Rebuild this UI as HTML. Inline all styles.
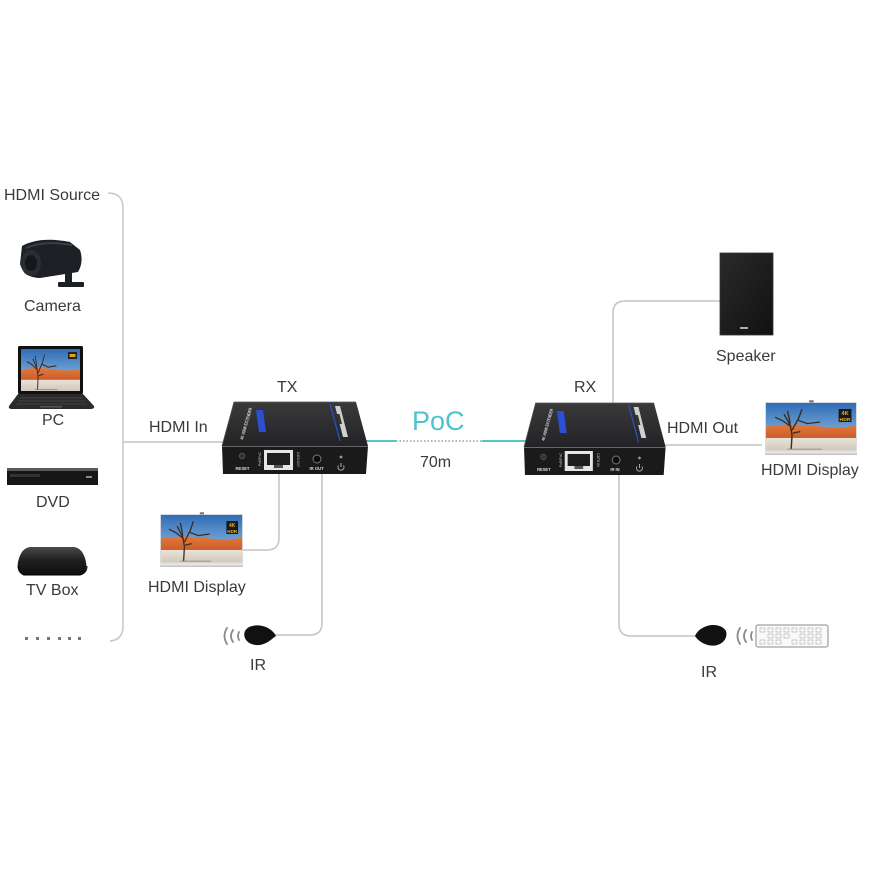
<!DOCTYPE html>
<html><head><meta charset="utf-8"><style>
html,body{margin:0;padding:0;background:#fff;}
svg{display:block;}
text{font-family:"Liberation Sans",Arial,sans-serif;fill:#3a3a3a;}
</style></head><body>
<svg width="870" height="870" viewBox="0 0 870 870" xmlns="http://www.w3.org/2000/svg">
<defs>
 <linearGradient id="sky" x1="0" y1="0" x2="0" y2="1">
  <stop offset="0" stop-color="#2f6db7"/><stop offset="1" stop-color="#a8cdea"/>
 </linearGradient>
 <linearGradient id="dune" x1="0" y1="0" x2="0" y2="1">
  <stop offset="0" stop-color="#e3783a"/><stop offset="1" stop-color="#c95a26"/>
 </linearGradient>
 <linearGradient id="ground" x1="0" y1="0" x2="0" y2="1">
  <stop offset="0" stop-color="#e9e2d8"/><stop offset="1" stop-color="#d2c8bb"/>
 </linearGradient>
 <linearGradient id="topg" x1="0" y1="0" x2="0" y2="1">
  <stop offset="0" stop-color="#3a3a3c"/><stop offset="1" stop-color="#232325"/>
 </linearGradient>
 <linearGradient id="spk" x1="0" y1="0" x2="1" y2="1">
  <stop offset="0" stop-color="#2a2a2a"/><stop offset="1" stop-color="#111"/>
 </linearGradient>
 <linearGradient id="tvb" x1="0" y1="0" x2="0" y2="1">
  <stop offset="0" stop-color="#4a4a4a"/><stop offset="0.5" stop-color="#1e1e1e"/><stop offset="1" stop-color="#0e0e0e"/>
 </linearGradient>
 <symbol id="scene" viewBox="0 0 100 60" preserveAspectRatio="none">
  <rect x="0" y="0" width="100" height="60" fill="url(#sky)"/>
  <path d="M0,30 Q25,25 55,29 T100,28 L100,46 L0,46 Z" fill="url(#dune)"/>
  <rect x="0" y="44" width="100" height="16" fill="url(#ground)"/>
  <path d="M28,58 L29,40 L27,28 L20,14 M29,34 L36,20 L40,8 M36,22 L46,26 L60,24 M28,30 L18,22 L10,18 M27,26 L24,10 M30,38 L38,36" stroke="#3b2c24" stroke-width="1.6" fill="none"/>
  <path d="M24,58 L62,58" stroke="#8a7f74" stroke-width="1"/>
 </symbol>
 <g id="tv">
  <rect x="0" y="0" width="100" height="60" fill="#ddd"/>
  <use href="#scene" x="1" y="1" width="98" height="55"/>
  <rect x="80" y="8" width="14" height="15" fill="#1a1a1a"/>
  <text x="87" y="15" font-size="6" text-anchor="middle" style="fill:#e6b422;font-weight:bold">4K</text>
  <text x="87" y="22" font-size="5.5" text-anchor="middle" style="fill:#e6b422;font-weight:bold">HDR</text>
  <rect x="0" y="56" width="100" height="4" fill="#e3e3e3"/>
  <line x1="0" y1="60" x2="100" y2="60" stroke="#888" stroke-width="0.8"/>
  <rect x="48" y="-2" width="5" height="2.5" fill="#777"/>
 </g>
 <g id="boxbase">
  <polygon points="234,402 356,402 368,446 222,446" fill="url(#topg)"/>
  <polyline points="222,446 234,402 356,402" fill="none" stroke="#555" stroke-width="0.8"/>
  <polygon points="222,446 368,446 366,474 223,474" fill="#1a1a1a"/>
  <line x1="222" y1="446.5" x2="368" y2="446.5" stroke="#666" stroke-width="1"/>
  <polygon points="256,410 263,410 266,432 259,432" fill="#2c4fd4"/>
  <text transform="translate(243,440) rotate(-74)" font-size="4.5" textLength="33" lengthAdjust="spacingAndGlyphs" style="fill:#ddd;font-weight:bold">4K HDMI EXTENDER</text>
  <line x1="330" y1="404" x2="340" y2="441" stroke="#2c4fd4" stroke-width="1.2"/>
  <polygon points="335,406 340,406 348,437 343,437" fill="#cfcfcf"/>
  <polygon points="336.5,414 339.5,414 342,424 339,424" fill="#333"/>
  <circle cx="242" cy="456" r="2.8" fill="#333" stroke="#555" stroke-width="0.8"/>
  <rect x="264" y="450" width="29" height="20" fill="#e6e6e6"/>
  <rect x="267" y="453" width="23" height="12" fill="#1e1e1e"/>
  <rect x="274" y="465" width="9" height="3" fill="#555"/>
  <circle cx="317" cy="459" r="4" fill="#0c0c0c" stroke="#7a7a7a" stroke-width="1"/>
  <circle cx="341" cy="457" r="1.4" fill="#999"/>
  <path d="M338.5,465.5 A3,3 0 1 0 343.5,465.5" fill="none" stroke="#bbb" stroke-width="0.9"/>
  <line x1="341" y1="463" x2="341" y2="467" stroke="#bbb" stroke-width="0.9"/>
 </g>
</defs>

<!-- HDMI source bracket -->
<path d="M108,193 Q123,193 123,208 L123,626 Q123,640 110,641" fill="none" stroke="#c6c6c6" stroke-width="1.5"/>
<text x="4" y="200" font-size="16">HDMI Source</text>

<!-- Camera -->
<g>
 <path d="M22,246 Q40,236 70,242 L80,250 Q84,262 78,272 L40,278 Q24,278 20,264 Z" fill="#1d2024"/>
 <path d="M26,248 Q44,240 72,245" stroke="#3a3f45" stroke-width="2" fill="none"/>
 <ellipse cx="31" cy="263" rx="10" ry="13" fill="#2a2e33"/>
 <ellipse cx="31" cy="263" rx="6" ry="8" fill="#15171a"/>
 <rect x="65" y="268" width="7" height="16" fill="#1d2024"/>
 <rect x="58" y="282" width="26" height="5" rx="1" fill="#1d2024"/>
</g>
<text x="24" y="311" font-size="16">Camera</text>

<!-- Laptop -->
<g>
 <rect x="18" y="346" width="65" height="48" rx="1.5" fill="#111"/>
 <use href="#scene" x="21" y="349" width="59" height="42"/>
 <rect x="68" y="352" width="9" height="7" fill="#222"/>
 <rect x="69.5" y="354" width="6" height="3" fill="#d9a521"/>
 <path d="M18,394 L83,394 L94,406 Q95,409 90,409 L12,409 Q8,409 9,406 Z" fill="#2b2b2b"/>
 <path d="M20,398 L82,398 M18,401 L85,401 M16,404 L87,404" stroke="#4a4a4a" stroke-width="0.8"/>
 <rect x="40" y="406" width="22" height="1.5" fill="#555"/>
</g>
<text x="42" y="425" font-size="16">PC</text>

<!-- DVD -->
<g>
 <rect x="7" y="468" width="91" height="17" fill="#161616"/>
 <rect x="7" y="468" width="91" height="3" fill="#5a5a5a"/>
 <rect x="10" y="474" width="30" height="3" fill="#333"/>
 <rect x="86" y="476" width="6" height="2" fill="#888"/>
</g>
<text x="36" y="507" font-size="16">DVD</text>

<!-- TV Box -->
<path d="M30,547 L74,547 Q83,548 86,562 Q88,573 80,575 L24,575 Q16,573 18,562 Q21,548 30,547 Z" fill="url(#tvb)"/>
<path d="M18,566 Q20,574 24,575 L80,575 Q87,573 87,566" fill="none" stroke="#000" stroke-width="1"/>
<text x="26" y="595" font-size="16">TV Box</text>

<!-- dots -->
<g fill="#777">
 <rect x="25" y="637" width="3" height="3"/><rect x="36" y="637" width="3" height="3"/>
 <rect x="47" y="637" width="3" height="3"/><rect x="58" y="637" width="3" height="3"/>
 <rect x="68" y="637" width="3" height="3"/><rect x="78" y="637" width="3" height="3"/>
</g>

<!-- connector lines -->
<g fill="none" stroke="#c4c4c4" stroke-width="1.5">
 <line x1="123" y1="442" x2="224" y2="442"/>
 <path d="M279,470 L279,538 Q279,550 267,550 L243,550"/>
 <path d="M322,470 L322,623 Q322,635 310,635 L274,635"/>
 <path d="M613,410 L613,313 Q613,301 625,301 L720,301"/>
 <line x1="662" y1="445" x2="762" y2="445"/>
 <path d="M619,472 L619,624 Q619,636 631,636 L697,636"/>
</g>

<!-- PoC link -->
<line x1="362" y1="441" x2="396" y2="441" stroke="#55c4cc" stroke-width="2"/>
<line x1="396" y1="441" x2="482" y2="441" stroke="#9a9a9a" stroke-width="1.5" stroke-dasharray="1.5,2"/>
<line x1="482" y1="441" x2="528" y2="441" stroke="#55c4cc" stroke-width="2"/>
<text x="412" y="430" font-size="27" style="fill:#4cc4ce">PoC</text>
<text x="420" y="467" font-size="16">70m</text>

<!-- TX -->
<text x="277" y="392" font-size="16">TX</text>
<text x="149" y="432" font-size="16">HDMI In</text>
<use href="#boxbase"/>
<text x="235.5" y="470" font-size="4.2" style="fill:#ddd;font-weight:bold">RESET</text>
<text x="309.5" y="470" font-size="4.2" style="fill:#ddd;font-weight:bold">IR OUT</text>
<text transform="translate(261,466) rotate(-90)" font-size="3.5" textLength="14" lengthAdjust="spacingAndGlyphs" style="fill:#ccc">PoE/PoC</text>
<text transform="translate(297,452) rotate(90)" font-size="3.5" textLength="15" lengthAdjust="spacingAndGlyphs" style="fill:#ccc">CAT6 OUT</text>

<!-- RX -->
<text x="574" y="392" font-size="16">RX</text>
<text x="667" y="433" font-size="16">HDMI Out</text>
<g transform="translate(302,1) scale(0.97,1)" style="transform-origin:222px 440px">
 <use href="#boxbase"/>
 <text x="235.5" y="470" font-size="4.2" style="fill:#ddd;font-weight:bold">RESET</text>
 <text x="311" y="470" font-size="4.2" style="fill:#ddd;font-weight:bold">IR IN</text>
 <text transform="translate(261,466) rotate(-90)" font-size="3.5" textLength="14" lengthAdjust="spacingAndGlyphs" style="fill:#ccc">PoE/PoC</text>
 <text transform="translate(297,452) rotate(90)" font-size="3.5" textLength="14" lengthAdjust="spacingAndGlyphs" style="fill:#ccc">CAT6 IN</text>
</g>

<!-- TX HDMI display -->
<use href="#tv" transform="translate(160,514) scale(0.83,0.87)"/>
<text x="148" y="592" font-size="16">HDMI Display</text>

<!-- RX HDMI display -->
<use href="#tv" transform="translate(765,402) scale(0.92,0.87)"/>
<text x="761" y="475" font-size="16">HDMI Display</text>

<!-- Speaker -->
<rect x="720" y="253" width="53" height="82" fill="url(#spk)" stroke="#333" stroke-width="0.8"/>
<rect x="740" y="327" width="8" height="2" fill="#aaa"/>
<text x="716" y="361" font-size="16">Speaker</text>

<!-- TX IR receiver -->
<g fill="none" stroke="#8a8a8a" stroke-width="1.8" stroke-linecap="round">
 <path d="M227,628 Q222,636 227,644"/>
 <path d="M233,630 Q229,636 233,642"/>
 <path d="M239,632 Q237,636 239,640"/>
</g>
<path d="M276,636 C270,624 250,622 245,631 C241,641 254,649 266,643 C270,641 273,638 276,636 Z" fill="#111"/>
<text x="250" y="670" font-size="16">IR</text>

<!-- RX IR receiver -->
<path d="M695,636 C700,624 720,621 726,631 C729,642 716,649 705,644 C700,642 697,639 695,636 Z" fill="#111"/>
<g fill="none" stroke="#8a8a8a" stroke-width="1.8" stroke-linecap="round">
 <path d="M740,628 Q735,636 740,644"/>
 <path d="M746,630 Q742,636 746,642"/>
 <path d="M752,632 Q750,636 752,640"/>
</g>
<rect x="756" y="625" width="72" height="22" rx="2" fill="#fafafa" stroke="#8a8a8a" stroke-width="1"/>
<g fill="none" stroke="#aaa" stroke-width="0.6">
 <rect x="760" y="628" width="5" height="4"/><rect x="768" y="628" width="5" height="4"/><rect x="776" y="628" width="5" height="4"/><rect x="784" y="628" width="5" height="4"/><rect x="792" y="628" width="5" height="4"/><rect x="800" y="628" width="5" height="4"/><rect x="808" y="628" width="5" height="4"/><rect x="816" y="628" width="5" height="4"/>
 <rect x="768" y="634" width="5" height="4"/><rect x="776" y="634" width="5" height="4"/><rect x="784" y="634" width="5" height="4"/><rect x="800" y="634" width="5" height="4"/><rect x="808" y="634" width="5" height="4"/><rect x="816" y="634" width="5" height="4"/>
 <rect x="760" y="640" width="5" height="4"/><rect x="768" y="640" width="5" height="4"/><rect x="776" y="640" width="5" height="4"/><rect x="792" y="640" width="5" height="4"/><rect x="800" y="640" width="5" height="4"/><rect x="808" y="640" width="5" height="4"/><rect x="816" y="640" width="5" height="4"/>
</g>
<text x="701" y="677" font-size="16">IR</text>
</svg>
</body></html>
